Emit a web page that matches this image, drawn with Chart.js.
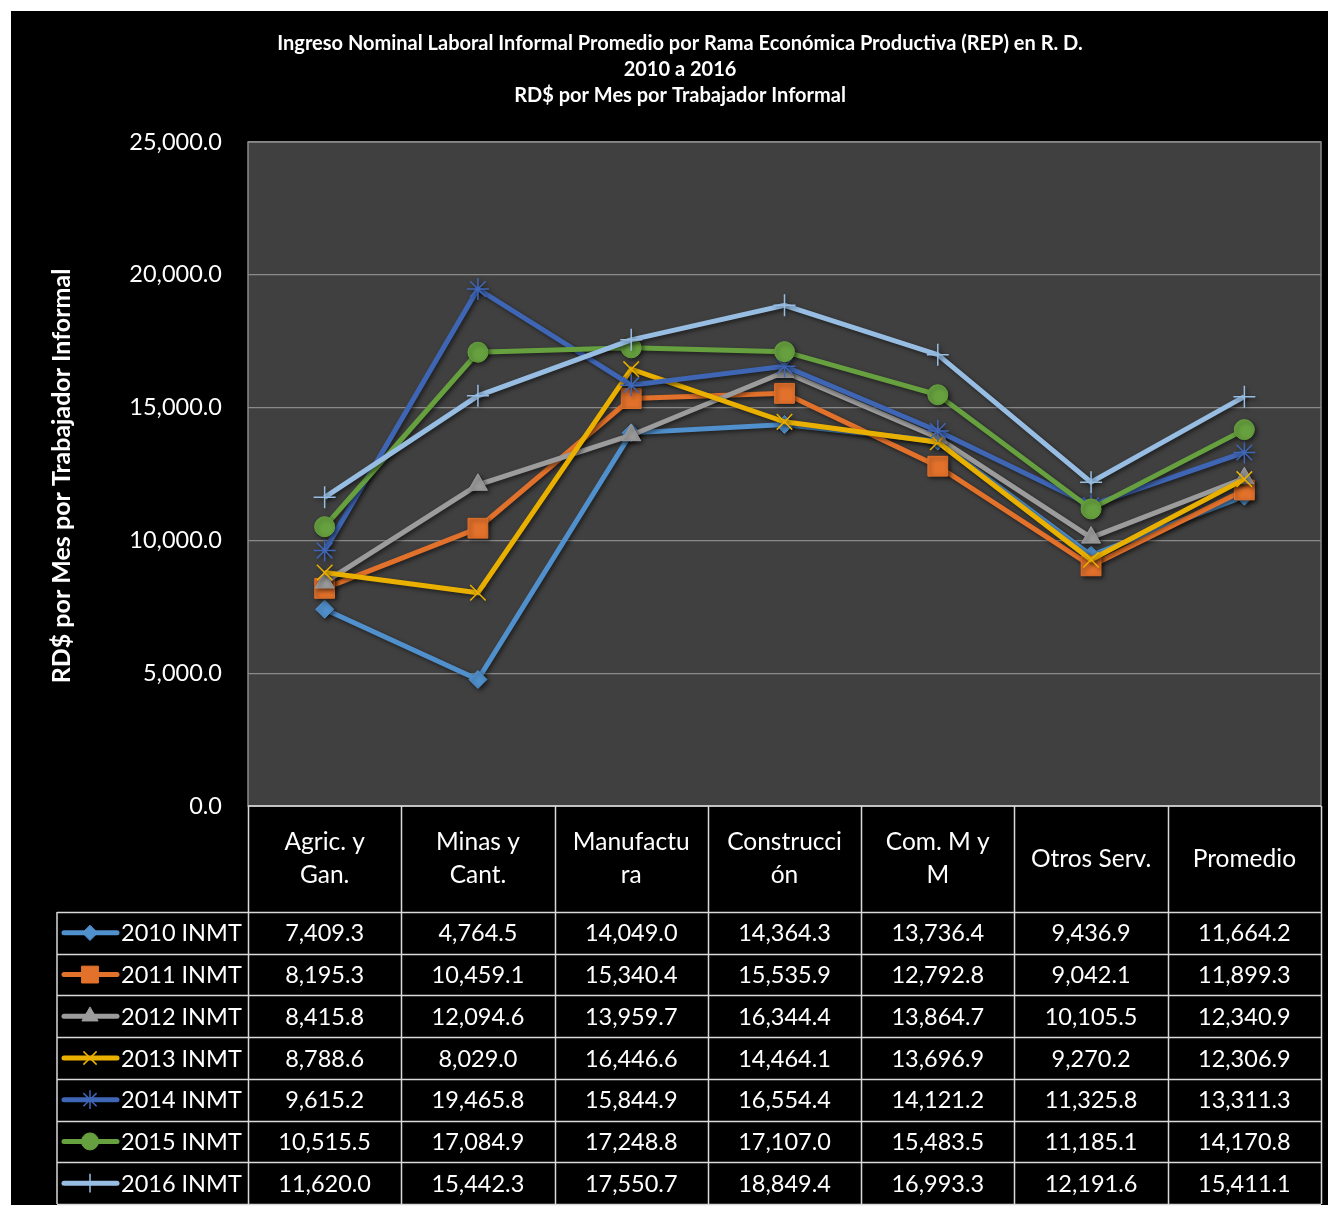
<!DOCTYPE html>
<html>
<head>
<meta charset="utf-8">
<script src="https://cdn.jsdelivr.net/npm/chart.js@4/dist/chart.umd.min.js"></script>
<style>
  html, body { margin: 0; padding: 0; background: #fff; }
  canvas { display: block; }
</style>
</head>
<body>
<canvas id="chart" width="1340" height="1208"></canvas>
<script>
// Données du graphique
const categories = [['Agric. y', 'Gan.'], ['Minas y', 'Cant.'], ['Manufactu', 'ra'], ['Construcci', 'ón'], ['Com. M y', 'M'], ['Otros Serv.'], ['Promedio']];
const seriesNames = ['2010 INMT', '2011 INMT', '2012 INMT', '2013 INMT', '2014 INMT', '2015 INMT', '2016 INMT'];
const inmt2010 = [7409.3, 4764.5, 14049.0, 14364.3, 13736.4, 9436.9, 11664.2];
const inmt2011 = [8195.3, 10459.1, 15340.4, 15535.9, 12792.8, 9042.1, 11899.3];
const inmt2012 = [8415.8, 12094.6, 13959.7, 16344.4, 13864.7, 10105.5, 12340.9];
const inmt2013 = [8788.6, 8029.0, 16446.6, 14464.1, 13696.9, 9270.2, 12306.9];
const inmt2014 = [9615.2, 19465.8, 15844.9, 16554.4, 14121.2, 11325.8, 13311.3];
const inmt2015 = [10515.5, 17084.9, 17248.8, 17107.0, 15483.5, 11185.1, 14170.8];
const inmt2016 = [11620.0, 15442.3, 17550.7, 18849.4, 16993.3, 12191.6, 15411.1];
const yTicks = [0, 5000, 10000, 15000, 20000, 25000];
const titleLines = [
    'Ingreso Nominal Laboral Informal Promedio por Rama Económica Productiva (REP) en R. D.',
    '2010 a 2016',
    'RD$ por Mes por Trabajador Informal'
];
const yTitle = 'RD$ por Mes por Trabajador Informal';

const allSeries = [inmt2010, inmt2011, inmt2012, inmt2013, inmt2014, inmt2015, inmt2016];
const colors = ['#5090cc', '#e2712b', '#9c9c9c', '#e9b000', '#3f66b5', '#67a13f', '#97bde3'];
const markers = ['rectRot', 'rect', 'triangle', 'crossRot', 'star', 'circle', 'cross'];
const markerSizes = [9, 14, 11, 11, 11, 10, 11];

const FONT = 'Lato, "Open Sans", sans-serif';
const fmt = v => v.toLocaleString('en-US', { minimumFractionDigits: 1, maximumFractionDigits: 1 });

const datasets = allSeries.map((data, i) => {
    const thin = ['crossRot', 'star', 'cross'].includes(markers[i]);
    return {
        label: seriesNames[i],
        data: data,
        borderColor: colors[i],
        backgroundColor: colors[i],
        borderWidth: 5,
        pointStyle: markers[i],
        pointRadius: markerSizes[i],
        pointBorderWidth: thin ? 1.5 : 1,
        pointBackgroundColor: colors[i],
        pointBorderColor: colors[i],
        tension: 0,
        order: 6 - i
    };
});

const layoutPlugin = {
    id: 'layoutPlugin',
    beforeDraw(chart) {
        const ctx = chart.ctx;
        const a = chart.chartArea;
        ctx.save();
        ctx.fillStyle = '#fff';
        ctx.fillRect(0, 0, chart.width, chart.height);
        ctx.fillStyle = '#000';
        ctx.fillRect(11, 11, 1317, 1194);
        ctx.fillStyle = '#404040';
        ctx.fillRect(a.left, a.top, a.right - a.left, a.bottom - a.top);
        ctx.restore();
    },
    beforeDatasetsDraw(chart) {
        const ctx = chart.ctx;
        const a = chart.chartArea;
        ctx.save();
        ctx.strokeStyle = '#8a8a8a';
        ctx.lineWidth = 1.5;
        ctx.strokeRect(a.left, a.top, a.right - a.left, a.bottom - a.top);
        ctx.restore();
        ctx.save();
        ctx.shadowColor = 'rgba(0,0,0,0.55)';
        ctx.shadowBlur = 4;
        ctx.shadowOffsetX = 2;
        ctx.shadowOffsetY = 2;
    },
    afterDatasetsDraw(chart) {
        chart.ctx.restore();
    },
    afterDraw(chart) {
        const ctx = chart.ctx;
        const a = chart.chartArea;
        const x = chart.scales.x;
        ctx.save();

        // titre
        ctx.fillStyle = '#fff';
        ctx.textAlign = 'center';
        ctx.textBaseline = 'middle';
        ctx.font = 'bold 20px ' + FONT;
        titleLines.forEach((t, i) => ctx.fillText(t, 680, 44 + i * 26));

        // titre de l'axe Y
        ctx.save();
        ctx.translate(62, 476);
        ctx.rotate(-Math.PI / 2);
        ctx.font = 'bold 25px ' + FONT;
        ctx.fillText(yTitle, 0, 0);
        ctx.restore();

        // tableau de données
        const headTop = a.bottom;
        const headBottom = 912;
        const rowH = (1204 - headBottom) / allSeries.length;
        const tableLeft = 57;
        const colW = (a.right - a.left) / categories.length;

        ctx.strokeStyle = '#d9d9d9';
        ctx.lineWidth = 1.5;
        ctx.beginPath();
        // lignes verticales
        for (let i = 0; i <= categories.length; i++) {
            const cx = Math.round(a.left + i * colW) + 0.5;
            ctx.moveTo(cx, headTop);
            ctx.lineTo(cx, 1204);
        }
        ctx.moveTo(tableLeft, headBottom);
        ctx.lineTo(tableLeft, 1204);
        // lignes horizontales
        ctx.moveTo(a.left, headTop);
        ctx.lineTo(a.right, headTop);
        for (let r = 0; r <= allSeries.length; r++) {
            const ry = Math.round(headBottom + r * rowH) + 0.5;
            ctx.moveTo(tableLeft, ry);
            ctx.lineTo(a.right, ry);
        }
        ctx.stroke();

        ctx.font = '24.5px ' + FONT;
        ctx.fillStyle = '#fff';
        ctx.textBaseline = 'middle';
        ctx.textAlign = 'center';
        const headMid = (headTop + headBottom) / 2;
        categories.forEach((lines, i) => {
            const cx = x.getPixelForValue(i);
            const lh = 33;
            const y0 = headMid - (lines.length - 1) * lh / 2;
            lines.forEach((l, k) => ctx.fillText(l, cx, y0 + k * lh));
        });

        ctx.font = '23.5px ' + FONT;
        allSeries.forEach((data, r) => {
            const cy = headBottom + (r + 0.5) * rowH;
            data.forEach((v, i) => {
                ctx.fillText(fmt(v), x.getPixelForValue(i), cy + 1);
            });
            // clé de légende
            ctx.save();
            ctx.strokeStyle = colors[r];
            ctx.lineWidth = 5;
            ctx.lineCap = 'round';
            ctx.beginPath();
            ctx.moveTo(64, cy);
            ctx.lineTo(117, cy);
            ctx.stroke();
            ctx.fillStyle = colors[r];
            ctx.lineWidth = ['crossRot', 'star', 'cross'].includes(markers[r]) ? 1.5 : 1;
            ctx.lineCap = 'butt';
            Chart.helpers.drawPoint(ctx, {
                pointStyle: markers[r],
                radius: markerSizes[r] * 0.85,
                rotation: 0,
                borderWidth: ctx.lineWidth
            }, 90, cy);
            ctx.restore();
            ctx.textAlign = 'left';
            ctx.fillText(seriesNames[r], 121, cy + 1);
            ctx.textAlign = 'center';
        });

        ctx.restore();
    }
};

const chart = new Chart(document.getElementById('chart').getContext('2d'), {
    type: 'line',
    data: { labels: categories.map(c => c.join(' ')), datasets: datasets },
    options: {
        responsive: false,
        animation: false,
        layout: { padding: { top: 142, right: 19, bottom: 402, left: 0 } },
        plugins: { legend: { display: false }, tooltip: { enabled: false }, title: { display: false } },
        scales: {
            x: { display: false, offset: true },
            y: {
                min: 0,
                max: 25000,
                afterFit(scale) { scale.width = 248; },
                afterBuildTicks(scale) { scale.ticks = yTicks.map(v => ({ value: v })); },
                ticks: {
                    color: '#fff',
                    padding: 26,
                    font: { family: FONT, size: 23.5 },
                    callback: v => fmt(v)
                },
                grid: { color: '#8a8a8a', lineWidth: 1.2, drawTicks: false },
                border: { display: false }
            }
        }
    },
    plugins: [layoutPlugin]
});
</script>
</body>
</html>
